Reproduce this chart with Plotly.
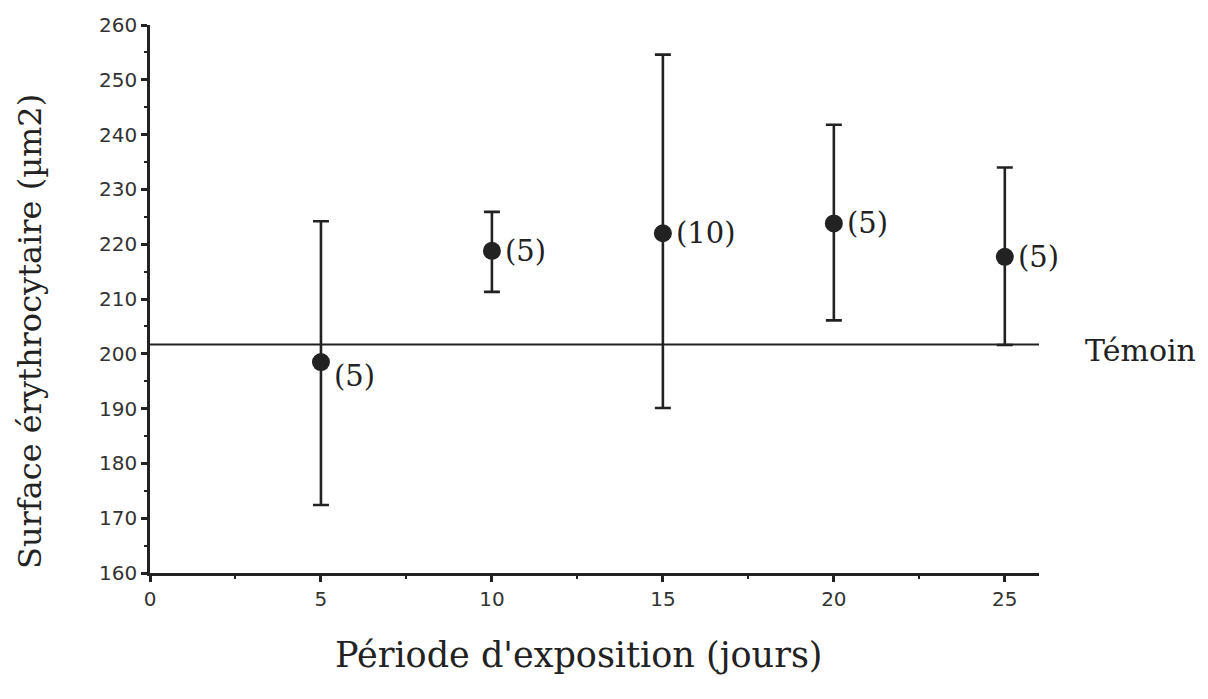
import plotly.graph_objects as go

jours = [5, 10, 15, 20, 25]
surface = [198.5, 218.8, 222.0, 223.8, 217.7]
err_haut = [224.2, 225.9, 254.6, 241.8, 234.0]
err_bas = [172.4, 211.3, 190.1, 206.1, 201.6]
effectifs = ["(5)", "(5)", "(10)", "(5)", "(5)"]
temoin = 201.7

plus = [h - m for h, m in zip(err_haut, surface)]
moins = [m - b for m, b in zip(surface, err_bas)]

fig = go.Figure()

fig.add_trace(go.Scatter(
    x=[0, 26], y=[temoin, temoin], mode="lines",
    line=dict(color="#222", width=2), showlegend=False, hoverinfo="skip"))

fig.add_trace(go.Scatter(
    x=jours, y=surface, mode="markers",
    marker=dict(color="#222", size=18),
    error_y=dict(type="data", symmetric=False, array=plus, arrayminus=moins,
                 color="#222", thickness=2.6, width=8),
    showlegend=False))

serif = "DejaVu Serif"
sans = "DejaVu Sans"

for i, (x, y, t) in enumerate(zip(jours, surface, effectifs)):
    fig.add_annotation(x=x, y=y, text=t, showarrow=False, xanchor="left",
                       yanchor="middle", xshift=11, yshift=(-14 if i == 0 else 0),
                       font=dict(family=serif, size=29, color="#222"))

fig.add_annotation(x=26, y=temoin, text="Témoin", showarrow=False,
                   xanchor="left", yanchor="middle", xshift=44, yshift=-6,
                   font=dict(family=serif, size=30, color="#222"))

fig.add_annotation(xref="paper", yref="paper", x=0.4826, y=-0.1496,
                   text="Période d'exposition (jours)", showarrow=False,
                   xanchor="center", yanchor="middle",
                   font=dict(family=serif, size=35, color="#222"))

fig.add_annotation(xref="paper", yref="paper", x=-0.135, y=0.4416,
                   text="Surface érythrocytaire (µm2)", showarrow=False,
                   textangle=-90, xanchor="center", yanchor="middle",
                   font=dict(family=serif, size=32, color="#222"))

fig.update_layout(
    width=1208, height=699,
    margin=dict(l=150, r=169, t=25, b=126),
    plot_bgcolor="white", paper_bgcolor="white",
    xaxis=dict(range=[0, 26], tickvals=[0, 5, 10, 15, 20, 25],
               showgrid=False, zeroline=False, showline=True,
               linecolor="#222", linewidth=2.5, ticks="outside",
               ticklen=6, tickwidth=2.5, tickcolor="#222",
               minor=dict(tickvals=[2.5, 7.5, 12.5, 17.5, 22.5], ticks="outside",
                          ticklen=3, tickwidth=2, tickcolor="#222"),
               tickfont=dict(family=sans, size=20, color="#333")),
    yaxis=dict(range=[160, 260], tickvals=list(range(160, 261, 10)),
               showgrid=False, zeroline=False, showline=True,
               linecolor="#222", linewidth=2.5, ticks="outside",
               ticklen=6, tickwidth=2.5, tickcolor="#222",
               minor=dict(tickvals=list(range(165, 260, 10)), ticks="outside",
                          ticklen=3, tickwidth=2, tickcolor="#222"),
               tickfont=dict(family=sans, size=20, color="#333")),
)

fig.write_html("out.html")
